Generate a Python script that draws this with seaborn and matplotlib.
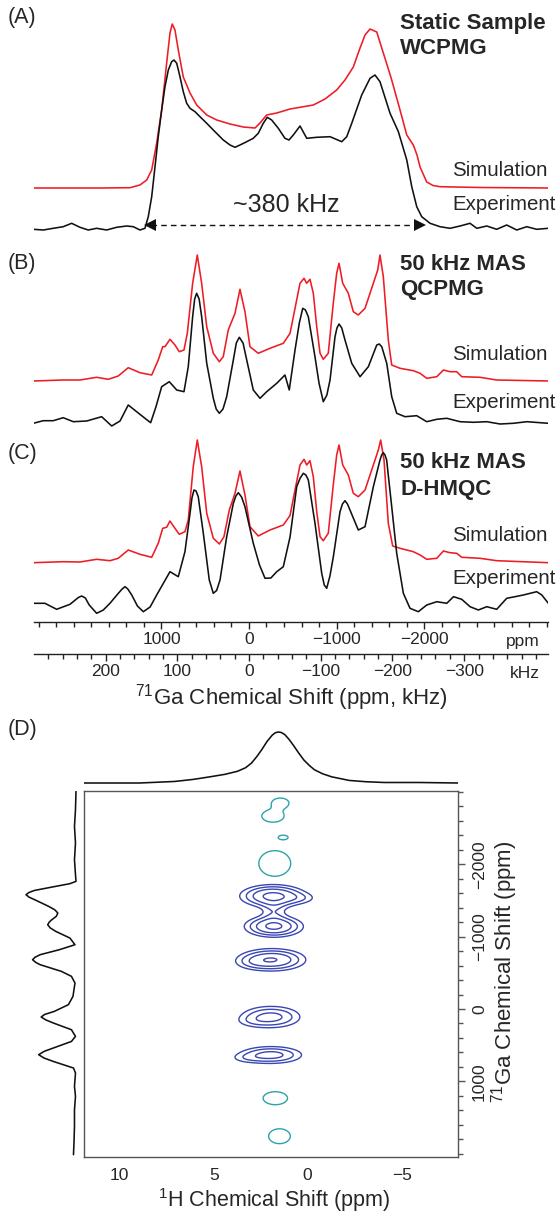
import numpy as np
import pandas as pd
import matplotlib
matplotlib.use("Agg")
import matplotlib.pyplot as plt
from matplotlib.ticker import MultipleLocator, FixedLocator
import seaborn as sns

# ---------------- data ----------------
# Panel A: static WCPMG (ppm, height)
A_sim_ppm = [2469, 1703, 1360, 1246, 1169, 1112, 1055, 998, 941, 903, 877, 846, 808, 751, 674, 598, 483, 369, 217, 65,
             -69, -126, -202, -317, -469, -735, -869, -1002, -1097, -1192, -1269, -1326, -1383, -1460, -1535, -1589,
             -1631, -1726, -1803, -1878, -1920, -1955, -2031, -2103, -2183, -2640, -3418]
A_sim_int = [0, 0, 0.3, 3, 8, 18, 45, 78, 125, 155, 164, 158, 138, 111, 95, 83, 73, 68, 64, 61,
             60, 65, 73, 75, 79, 83, 89, 98, 108, 121, 140, 153, 159, 156, 135, 120,
             108, 78, 53, 43, 33, 21, 6, 2.5, 1.3, 0.5, 0]
A_exp_ppm = [2465, 2351, 2237, 2123, 2027, 1932, 1837, 1741, 1627, 1512, 1398, 1322, 1246, 1189, 1151, 1112, 1074, 1037,
             998, 960, 922, 884, 857, 826, 789, 751, 712, 674, 617, 560, 483, 389, 294, 217, 160, 103, 26, -49, -106,
             -163, -209, -259, -335, -411, -457, -506, -583, -660, -774, -926, -1060, -1117, -1174, -1288, -1383,
             -1440, -1497, -1612, -1707, -1803, -1860, -1917, -1974, -2069, -2183, -2297, -2412, -2526, -2603, -2717,
             -2831, -2945, -3060, -3174, -3288, -3421]
A_exp_int = [-2.3, -3, -1.3, 0.3, 3.7, -0.3, -3, -1.3, -3, -0.3, 1, 0.3, -3, -1.3, 10.3, 30.3, 60.3, 90.3,
             117, 140.3, 157, 165.3, 167, 163.7, 150.3, 135.3, 123.7, 118.7, 115.3, 110.3, 103.7, 95.3, 87, 82, 79.7,
             82, 85.3, 88.7, 93.7, 103.7, 109.7, 107, 98.7, 88.7, 87, 92, 101, 88.7, 89.7, 90.3, 85.3, 90.3, 103.7,
             132, 148.7, 152, 145.3, 113.7, 95.3, 67, 40.3, 20.3, 10.3, 3.7, 0.3, -1.3, 1, 3.7, -1.3, 1,
             -2.3, 2, -3, 0.3, -2.3, -1.3]

# Panel B: 50 kHz MAS QCPMG
B_sim_ppm = [2465, 2123, 1932, 1741, 1608, 1494, 1380, 1246, 1112, 1037, 986, 960, 903, 846, 797, 743, 705, 644, 591,
             541, 483, 408, 339, 294, 237, 160, 103, 46, -11, -106, -240, -392, -469, -526, -583, -629, -659, -697,
             -735, -774, -812, -849, -906, -963, -1002, -1029, -1071, -1135, -1192, -1249, -1326, -1421, -1471, -1497,
             -1535, -1592, -1631, -1726, -1878, -1955, -2031, -2146, -2222, -2297, -2374, -2431, -2640, -2831, -3421]
B_sim_int = [0, 1, 1, 3.7, 1.7, 5, 13.3, 8.3, 6, 21, 34.3, 34.3, 41.7, 36, 29.3, 31, 47.7, 97.7, 126,
             97.7, 54.3, 27.7, 19.3, 24.3, 51, 67.7, 91.7, 69.3, 34.3, 27.7, 32.7, 37.7, 47.7, 72.7, 97.7, 102.7,
             97.7, 101.7, 87.7, 54.3, 27.7, 21.7, 27.7, 77.7, 107.7, 117.7, 97.7, 87.7, 69.3, 66, 72.7, 97.7, 111,
             126, 104.3, 41, 16, 12.7, 10.3, 7.7, 2.7, 4.3, 11, 9.3, 9.3, 4.3, 3.7, 1, 0]
B_exp_ppm = [2465, 2351, 2237, 2123, 2008, 1855, 1684, 1569, 1474, 1380, 1284, 1189, 1124, 1063, 998, 911, 826, 743,
             694, 644, 621, 598, 570, 541, 483, 408, 375, 339, 297, 255, 179, 145, 111, 68, 26, -49, -126, -202,
             -317, -411, -460, -526, -575, -614, -645, -678, -754, -800, -849, -890, -926, -983, -1005, -1029, -1060,
             -1097, -1174, -1269, -1364, -1460, -1488, -1517, -1574, -1631, -1688, -1783, -1917, -2031, -2146, -2260,
             -2412, -2564, -2717, -2869, -3021, -3174, -3421]
B_exp_int = [-0.3, 2.3, 2.3, 5.3, 1.3, 2, 6.3, -3, 2, 18, 11.3, 4.7, 0.3, 16.3, 36.3, 41.3, 33, 31.3,
             56.3, 106.3, 124, 129.7, 124, 106.3, 59.7, 24.7, 14, 9.7, 14, 26.3, 63, 80, 85.7, 80, 63, 33, 24.7, 31.3,
             39.7, 48, 33, 73, 100, 114.7, 113, 106.3, 66.3, 40, 21.3, 28, 43, 86.3, 95, 99, 95,
             83, 59.7, 46.3, 56.3, 78, 79, 76.3, 59.7, 26.3, 9.7, 6.3, 7.3, 1.3, 3.7, 4.7,
             1.3, 0.7, 1.3, -1, -0.3, 1.3, -0.3]

# Panel C: 50 kHz MAS D-HMQC
C_sim_ppm = [2465, 2123, 1932, 1741, 1589, 1494, 1380, 1246, 1112, 1037, 986, 941, 903, 846, 797, 732, 694, 637, 591,
             541, 483, 408, 339, 286, 225, 160, 103, 46, -11, -106, -240, -392, -469, -526, -583, -629, -659, -697,
             -735, -774, -812, -849, -906, -963, -1002, -1029, -1071, -1135, -1192, -1249, -1326, -1421, -1478, -1505,
             -1543, -1592, -1642, -1726, -1878, -1955, -2031, -2146, -2222, -2297, -2374, -2431, -2640, -2831, -3421]
C_sim_int = [0.3, 1.3, 1, 3.7, 2.3, 4.7, 13, 8.7, 5.7, 19.7, 34.7, 35.7, 42, 34.7, 28.7, 31.3, 43, 96.3, 123,
             96.3, 49.7, 24.7, 19, 26.3, 53, 69.7, 92, 68, 36.3, 27, 33, 38, 47.5, 73, 98, 103.7, 98, 102.3,
             86.3, 51.3, 26.3, 22.3, 29.7, 78, 108, 118, 98, 88, 69.7, 66.3, 73, 98, 113, 123,
             103, 39.7, 17, 14.7, 11.3, 8, 3.7, 4.7, 12, 10.3, 9.7, 5.7, 4.7, 2.3, 0.3]
C_exp_ppm = [2465, 2332, 2198, 2046, 1950, 1912, 1870, 1826, 1741, 1665, 1589, 1500, 1450, 1417, 1385, 1340, 1275, 1208,
             1130, 1055, 903, 808, 732, 674, 652, 629, 605, 580, 522, 454, 408, 370, 331, 255, 179, 150, 122, 85, 46,
             -49, -120, -183, -250, -317, -392, -469, -545, -585, -621, -650, -678, -754, -831, -860, -888, -925,
             -964, -1040, -1068, -1097, -1125, -1154, -1249, -1326, -1421, -1497, -1516, -1535, -1554, -1573, -1631,
             -1688, -1764, -1840, -1935, -2031, -2146, -2260, -2337, -2431, -2526, -2621, -2717, -2831, -2945, -3040,
             -3135, -3288, -3346, -3421]
C_exp_int = [-0.3, -0.3, -6.3, -1.3, 5.5, 7, 5, -2, -10.3, -7, -0.3, 9, 14, 16.3, 14, 8, -3, -8.7,
             -4, 8, 31.3, 26.3, 51.3, 89.7, 105, 113, 112, 106.3, 69.7, 23, 9.7, 12.5, 23, 66.3, 99.7, 107, 110.3, 106,
             96.3, 59.7, 38, 24.7, 25, 31.3, 36.3, 66, 116.3, 125, 129.7, 128, 123, 79.7, 29.7, 18, 14.7, 27,
             46.3, 91.3, 99, 102.3, 99, 93, 73, 76.3, 116.3, 143, 148, 150.3, 148, 143, 96.3,
             49.7, 9.7, -5.3, -8.7, -2, 1.3, -0.3, 6.3, 3.7, -3.7, -7, -3.7, -6.3, 4.7, 6.3,
             8, 11.3, 8, -0.3]

# Panel D: projections
H1_ppm = [11.9, 10.5, 8.94, 7.08, 6.1, 5.22, 4.4, 3.73, 3.3, 2.99, 2.7, 2.43, 2.15, 1.88, 1.72, 1.56, 1.4, 1.22,
          1.0, 0.76, 0.5, 0.2, -0.1, -0.36, -0.8, -1.29, -2.22, -3.1, -4.07, -5.93, -8.0]
H1_int = [0, 0, 0, 0.03, 0.07, 0.12, 0.17, 0.23, 0.3, 0.39, 0.52, 0.66, 0.82, 0.94, 0.985, 1.0, 0.99, 0.95,
          0.86, 0.74, 0.6, 0.45, 0.34, 0.26, 0.18, 0.12, 0.05, 0.025, 0.01, 0.01, 0]
Ga_ppm = [-3006, -2753, -2522, -2293, -2062, -1855, -1763, -1731, -1685, -1638, -1610, -1579, -1545, -1510, -1417,
          -1370, -1326, -1280, -1233, -1200, -1164, -1120, -1072, -980, -888, -819, -750, -715, -681, -645, -612,
          -520, -451, -359, -174, -60, 33, 75, 110, 150, 193, 286, 378, 448, 539, 585, 631, 678, 724, 815, 884,
          1069, 1207, 1391, 1622, 1851, 2012]
Ga_int = [0, .01, .03, .01, .03, .01, 0, .12, .47, .82, .93, .99, .93, .82, .54, .42, .36, .39, .48, .53, .56, .51,
          .40, .12, .02, .33, .71, .81, .86, .80, .71, .29, .09, .02, .06, .15, .43, .62, .69, .60, .45, .09, .01,
          .09, .45, .63, .74, .63, .45, .05, .01, .03, .01, .03, .03, .04, .05]

# Panel D: 2D cross peaks (1H centre, 71Ga centre, amplitude, widths)
blue_h0 = [1.85, 1.8, 1.8, 0.3, 1.9, 3.0, 1.95, 3.0, 1.95, 3.3]
blue_g0 = [-1560, -1140, -1350, -1530, -680, -640, 110, 170, 635, 680]
blue_amp = [0.95, 0.92, 0.25, 0.15, 0.87, 0.12, 0.65, 0.12, 0.66, 0.14]
blue_sh = [1.0, 0.9, 0.45, 0.6, 1.05, 0.6, 1.0, 0.6, 1.05, 0.6]
blue_sg = [90, 85, 110, 50, 90, 60, 95, 55, 75, 45]
blue_levels = [0.2, 0.35, 0.55, 0.85]

teal_h0 = [1.45, 1.85, 1.3, 1.75, 1.72, 1.5]
teal_g0 = [-2845, -2665, -2370, -2010, 1232, 1757]
teal_sh = [0.38, 0.5, 0.21, 0.72, 0.55, 0.49]
teal_sg = [58, 72, 25, 150, 76, 87]
teal_levels = [0.5]

ppm_ticks = [1000, 0, -1000, -2000]
khz_ticks = [200, 100, 0, -100, -200, -300]
LARMOR_MHZ = 122.0

# ---------------- style ----------------
sns.set_theme(style="white")
plt.rcParams["font.family"] = ["Liberation Sans", "DejaVu Sans"]
plt.rcParams["mathtext.fontset"] = "custom"
plt.rcParams["mathtext.rm"] = "Liberation Sans"
plt.rcParams["mathtext.it"] = "Liberation Sans:italic"
plt.rcParams["mathtext.bf"] = "Liberation Sans:bold"
plt.rcParams["axes.unicode_minus"] = True

RED = "#ee1c24"
BLK = "#111111"
BLUE = "#3a46b2"
TEAL = "#2ba4a8"
LW = 1.15
TICKFS = 12.5

W, H = 556, 1215
fig = plt.figure(figsize=(W / 100, H / 100), dpi=100)


def fx(x):
    return x / W


def fy(y):
    return 1 - y / H


# ---------------- panels A-C ----------------
ax = fig.add_axes([fx(34), fy(622), (548 - 34) / W, 622 / H])
ax.set_xlim(2457, -3417)
ax.set_ylim(622, 0)

traces = [
    (A_sim_ppm, A_sim_int, 188, RED), (A_exp_ppm, A_exp_int, 227, BLK),
    (B_sim_ppm, B_sim_int, 381, RED), (B_exp_ppm, B_exp_int, 423, BLK),
    (C_sim_ppm, C_sim_int, 563, RED), (C_exp_ppm, C_exp_int, 603, BLK),
]
for ppm, inten, base, col in traces:
    df = pd.DataFrame({"ppm": ppm, "y": base - np.asarray(inten, float)})
    sns.lineplot(data=df, x="ppm", y="y", ax=ax, color=col, lw=LW, sort=False, estimator=None)
for ln in ax.lines:
    ln.set_solid_joinstyle("round")

ax.set_xlabel("")
ax.set_ylabel("")
for s in ["top", "left", "right"]:
    ax.spines[s].set_visible(False)
ax.spines["bottom"].set_color("#222222")
ax.spines["bottom"].set_linewidth(1.0)
ax.set_yticks([])
ax.xaxis.set_major_locator(FixedLocator(ppm_ticks))
ax.xaxis.set_minor_locator(MultipleLocator(200))
ax.tick_params(axis="x", which="major", direction="out", length=5, width=1.0, color="#222222",
               labelsize=TICKFS, pad=2, bottom=True)
ax.tick_params(axis="x", which="minor", direction="out", length=3.5, width=1.0, color="#222222", bottom=True)

sec = ax.secondary_xaxis(-(654 - 622) / 622,
                         functions=(lambda p: p * LARMOR_MHZ / 1000.0, lambda k: k * 1000.0 / LARMOR_MHZ))
sec.xaxis.set_major_locator(FixedLocator(khz_ticks))
sec.xaxis.set_minor_locator(MultipleLocator(20))
sec.spines["bottom"].set_color("#222222")
sec.spines["bottom"].set_linewidth(1.0)
sec.tick_params(axis="x", which="major", direction="out", length=5, width=1.0, color="#222222",
                labelsize=TICKFS, pad=2)
sec.tick_params(axis="x", which="minor", direction="out", length=3.5, width=1.0, color="#222222")

# arrow ~380 kHz
ax.plot([1120, -1940], [224.5, 224.5], color=BLK, lw=1.0, ls=(0, (4, 3)))
ax.plot([1131], [224.5], marker="<", color=BLK, ms=9, mew=0)
ax.plot([-1954], [224.5], marker=">", color=BLK, ms=9, mew=0)

fig.text(fx(286), fy(205), "~380 kHz", fontsize=18, ha="center", va="center")

# labels
LABFS = 14.8
for y, t in [(171, "Simulation"), (205, "Experiment"), (354, "Simulation"), (402, "Experiment"),
             (536, "Simulation"), (579, "Experiment")]:
    fig.text(fx(452), fy(y), t, fontsize=LABFS, ha="left", va="center")
BOLDFS = 16
for y, t in [(23, "Static Sample"), (49, "WCPMG"), (265, "50 kHz MAS"), (289, "QCPMG"),
             (462, "50 kHz MAS"), (489, "D-HMQC")]:
    fig.text(fx(400), fy(y), t, fontsize=BOLDFS, fontweight="bold", ha="left", va="center")
for y, t in [(18, "(A)"), (263, "(B)"), (453, "(C)"), (730, "(D)")]:
    fig.text(fx(8), fy(y), t, fontsize=15.5, ha="left", va="center")

fig.text(fx(540), fy(642), "ppm", fontsize=TICKFS, ha="right", va="center")
fig.text(fx(540), fy(674), "kHz", fontsize=TICKFS, ha="right", va="center")
fig.text(fx(291), fy(698), r"$^{71}$Ga Chemical Shift (ppm, kHz)", fontsize=16, ha="center", va="center")

# ---------------- panel D ----------------
XL = (11.9, -8.0)
YL = (2044, -3011)
axd = fig.add_axes([fx(84), fy(1157), (458 - 84) / W, (1157 - 791) / H])
axd.set_xlim(*XL)
axd.set_ylim(*YL)

hh = np.linspace(-8.5, 12.5, 421)
gg = np.linspace(-3100, 2100, 521)
HH, GG = np.meshgrid(hh, gg)
Zb = np.zeros_like(HH)
for h0, g0, a, sh, sg in zip(blue_h0, blue_g0, blue_amp, blue_sh, blue_sg):
    Zb += a * np.exp(-0.5 * ((HH - h0) / sh) ** 2 - 0.5 * ((GG - g0) / sg) ** 2)
Zt = np.zeros_like(HH)
for h0, g0, sh, sg in zip(teal_h0, teal_g0, teal_sh, teal_sg):
    Zt += np.exp(-0.5 * ((HH - h0) / sh) ** 2 - 0.5 * ((GG - g0) / sg) ** 2)
axd.contour(HH, GG, Zb, levels=blue_levels, colors=BLUE, linewidths=1.0)
axd.contour(HH, GG, Zt, levels=teal_levels, colors=TEAL, linewidths=1.0)

FR = "#555555"
for s in axd.spines.values():
    s.set_visible(True)
    s.set_color(FR)
    s.set_linewidth(1.0)
axd.yaxis.tick_right()
axd.xaxis.set_major_locator(MultipleLocator(5))
axd.xaxis.set_minor_locator(MultipleLocator(1))
axd.yaxis.set_major_locator(FixedLocator([-2000, -1000, 0, 1000]))
axd.yaxis.set_minor_locator(MultipleLocator(200))
axd.tick_params(axis="both", which="major", direction="out", length=5, width=1.0, color=FR,
                labelsize=TICKFS, pad=3)
axd.tick_params(axis="both", which="minor", direction="out", length=3.5, width=1.0, color=FR)
axd.tick_params(axis="y", which="both", right=True, left=False, labelright=True, labelleft=False)
axd.tick_params(axis="y", which="major", labelrotation=90, pad=5)
for lab in axd.get_yticklabels():
    lab.set_va("center")
axd.set_xlabel("")
axd.set_ylabel("")
fig.text(fx(274), fy(1200), r"$^{1}$H Chemical Shift (ppm)", fontsize=15.5, ha="center", va="center")
fig.text(fx(505), fy(972), r"$^{71}$Ga Chemical Shift (ppm)", fontsize=16, ha="center", va="center",
         rotation=90)

# top projection
axt = fig.add_axes([fx(84), fy(788), (458 - 84) / W, 63 / H])
axt.set_xlim(*XL)
axt.set_ylim(-0.098, 1.137)
axt.axis("off")
sns.lineplot(x=H1_ppm, y=H1_int, ax=axt, color=BLK, lw=LW, sort=False, estimator=None)

# left projection
axl = fig.add_axes([fx(15), fy(1157), 67 / W, (1157 - 791) / H])
axl.set_xlim(1.208, -0.119)
axl.set_ylim(*YL)
axl.axis("off")
sns.lineplot(x=Ga_int, y=Ga_ppm, ax=axl, color=BLK, lw=LW, sort=False, estimator=None)
for a_ in (axt, axl):
    for ln in a_.lines:
        ln.set_solid_joinstyle("round")

fig.savefig("out.png", dpi=100)
